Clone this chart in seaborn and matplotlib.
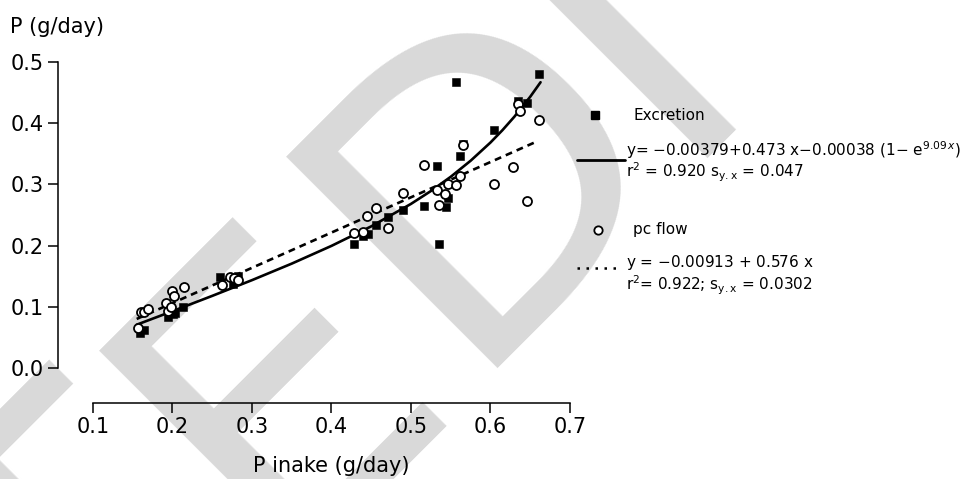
import numpy as np
import matplotlib
matplotlib.use("Agg")
import matplotlib.pyplot as plt
import seaborn as sns
from matplotlib.lines import Line2D

# ── DATA ─────────────────────────────────────────────────────────
# excretion (filled squares)
exc_x = [0.159, 0.164, 0.195, 0.201, 0.203, 0.213, 0.260, 0.276, 0.283,
         0.428, 0.440, 0.446, 0.456, 0.471, 0.490, 0.516, 0.533, 0.535,
         0.544, 0.546, 0.557, 0.562, 0.565, 0.605, 0.634, 0.646, 0.661]
exc_y = [0.057, 0.062, 0.083, 0.089, 0.090, 0.100, 0.149, 0.138, 0.150,
         0.202, 0.216, 0.219, 0.233, 0.246, 0.258, 0.265, 0.330, 0.203,
         0.263, 0.277, 0.468, 0.347, 0.366, 0.389, 0.437, 0.433, 0.480]

# pc flow (open circles)
pc_x = [0.157, 0.161, 0.164, 0.169, 0.192, 0.195, 0.198, 0.200, 0.202,
        0.214, 0.262, 0.272, 0.277, 0.283, 0.428, 0.440, 0.445, 0.456,
        0.471, 0.490, 0.516, 0.533, 0.535, 0.543, 0.546, 0.557, 0.562,
        0.566, 0.605, 0.628, 0.634, 0.637, 0.646, 0.661]
pc_y = [0.065, 0.091, 0.091, 0.097, 0.106, 0.093, 0.100, 0.125, 0.117,
        0.132, 0.136, 0.148, 0.147, 0.144, 0.221, 0.223, 0.249, 0.262,
        0.228, 0.286, 0.332, 0.291, 0.267, 0.285, 0.300, 0.299, 0.313,
        0.364, 0.300, 0.329, 0.432, 0.420, 0.273, 0.405]

# fitted curve for excretion
fit_exc_x = [0.155, 0.200, 0.250, 0.300, 0.350, 0.400, 0.450, 0.500,
             0.525, 0.550, 0.575, 0.600, 0.615, 0.630, 0.650, 0.663]
fit_exc_y = [0.0707, 0.0928, 0.1178, 0.1435, 0.1705, 0.1995, 0.2314, 0.2681,
             0.2891, 0.3124, 0.3386, 0.3684, 0.3885, 0.4105, 0.4432, 0.4669]

# linear fit for pc flow (dashed line)
fit_pc_x = [0.155, 0.655]
fit_pc_y = [0.0801, 0.3682]

x_ticks = [0.1, 0.2, 0.3, 0.4, 0.5, 0.6, 0.7]
y_ticks = [0.0, 0.1, 0.2, 0.3, 0.4, 0.5]

# ── FIGURE ───────────────────────────────────────────────────────
sns.set_style("ticks")
plt.rcParams["font.family"] = ["DejaVu Sans"]
plt.rcParams["mathtext.fontset"] = "dejavusans"
plt.rcParams["text.color"] = "black"

fig = plt.figure(figsize=(9.71, 4.79), dpi=100)
ax = fig.add_axes([0.0597, 0.1587, 0.5273, 0.7119])
ax.patch.set_alpha(0)

# watermark letters, placed one by one behind everything (pixel origins)
for letter, (px, py) in zip("TEDI", [(83, 750), (271, 562), (458, 368), (668, 158)]):
    fig.text(px / 971, 1 - py / 479, letter, fontsize=295, color="#d9d9d9",
             rotation=45, rotation_mode="anchor", ha="left", va="baseline",
             zorder=-1)

dash = (0, (2.6, 1.9))
sns.lineplot(x=fit_pc_x, y=fit_pc_y, ax=ax, color="black", lw=1.9,
             linestyle=dash, zorder=2)
sns.lineplot(x=fit_exc_x, y=fit_exc_y, ax=ax, color="black", lw=1.9,
             zorder=2)
sns.scatterplot(x=exc_x, y=exc_y, ax=ax, marker="s", s=38, color="black",
                edgecolor="black", linewidth=0.4, zorder=3, clip_on=False)
sns.scatterplot(x=pc_x, y=pc_y, ax=ax, marker="o", s=42, color="white",
                edgecolor="black", linewidth=1.3, zorder=4, clip_on=False)

ax.set_xlim(0.056, 0.70)
ax.set_ylim(-0.0572, 0.50)
ax.set_xticks(x_ticks)
ax.set_yticks(y_ticks)
ax.set_xticklabels([f"{t:.1f}" for t in x_ticks])
ax.set_yticklabels([f"{t:.1f}" for t in y_ticks])
ax.tick_params(direction="out", length=7.2, width=1.1, labelsize=15,
               color="black", labelcolor="black", pad=3)
for side in ["top", "right"]:
    ax.spines[side].set_visible(False)
ax.spines["left"].set_bounds(0, 0.5)
ax.spines["bottom"].set_bounds(0.1, 0.7)
for side in ["left", "bottom"]:
    ax.spines[side].set_linewidth(1.1)
    ax.spines[side].set_color("black")
ax.set_xlabel("")
ax.set_ylabel("")

fig.text(10 / 971, 1 - 27 / 479, "P (g/day)", fontsize=15, va="center",
         ha="left")
fig.text(331 / 971, 1 - 466 / 479, "P inake (g/day)", fontsize=15,
         va="center", ha="center")

# ── LEGEND (drawn by hand) ───────────────────────────────────────
def fx(px):
    return px / 971


def fy(py):
    return 1 - py / 479


fig.add_artist(Line2D([fx(595)], [fy(115)], marker="s", markersize=5.8,
                      color="black", transform=fig.transFigure))
fig.add_artist(Line2D([fx(598)], [fy(230)], marker="o", markersize=6,
                      markerfacecolor="white", markeredgecolor="black",
                      markeredgewidth=1.3, transform=fig.transFigure))
fig.add_artist(Line2D([fx(577), fx(625)], [fy(160), fy(160)], color="black",
                      lw=2.0, transform=fig.transFigure))
fig.add_artist(Line2D([fx(577), fx(620)], [fy(268), fy(268)], color="black",
                      lw=1.8, linestyle=(0, (1, 2.6)),
                      transform=fig.transFigure))

lfs = 11
fig.text(fx(633), fy(115), "Excretion", fontsize=lfs, va="center")
fig.text(fx(626), fy(150),
         r"y= $-$0.00379+0.473 x$-$0.00038 (1$-$ e$^{9.09\,x}$)",
         fontsize=lfs, va="center")
fig.text(fx(626), fy(172), r"r$^2$ = 0.920 s$_{\mathrm{y.x}}$ = 0.047",
         fontsize=lfs, va="center")
fig.text(fx(633), fy(230), "pc flow", fontsize=lfs, va="center")
fig.text(fx(626), fy(263), r"y = $-$0.00913 + 0.576 x", fontsize=lfs,
         va="center")
fig.text(fx(626), fy(285), r"r$^2$= 0.922; s$_{\mathrm{y.x}}$ = 0.0302",
         fontsize=lfs, va="center")

plt.savefig("out.png", dpi=100)
